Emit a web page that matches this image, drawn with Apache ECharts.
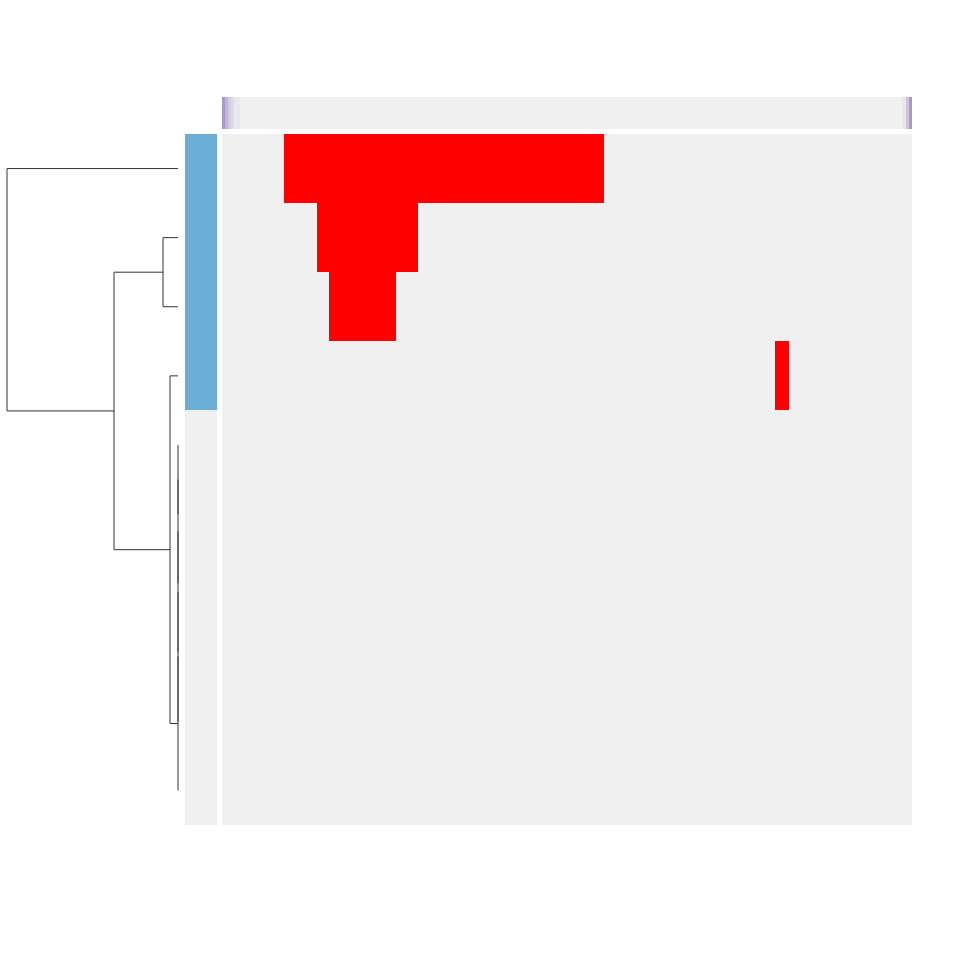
<!DOCTYPE html>
<html>
<head>
<meta charset="utf-8">
<script src="https://cdn.jsdelivr.net/npm/echarts@6/dist/echarts.min.js"></script>
<style>html,body{margin:0;padding:0;background:#fff}#c{width:960px;height:960px}</style>
</head>
<body>
<div id="c"></div>
<script>
// ---- data ----
const nRows = 10;
const nCols = 690;                       // column units across the heatmap
const rowGroup = [1, 1, 1, 1, 0, 0, 0, 0, 0, 0];      // row annotation group
const groupColors = ['#f0f0f0', '#6baed6'];
// red (value = 1) runs: [row, startCol, endCol]
const redRuns = [[0, 62, 382], [1, 95, 196], [2, 107, 174], [3, 553, 567]];
// column annotation runs: [startCol, endCol, value 0..1]
const colAnnot = [[0, 3, 0.6], [3, 6, 0.4], [6, 9, 0.25], [9, 12, 0.14], [12, 18, 0.05],
                  [680, 684, 0.06], [684, 687, 0.3], [687, 690, 0.6]];
// hclust-style merges: negative = leaf (1-based, display order), positive = earlier merge
const merges = [[-5, -6, 0], [1, -7, 0], [2, -8, 0], [3, -9, 0], [4, -10, 0],
                [-2, -3, 1.5], [-4, 5, 0.8], [6, 7, 6.4], [-1, 8, 17.1]];
const maxHeight = 17.1;

// ---- derived ----
const nodePos = [];
function pos(id) {
  if (id < 0) return { y: -id - 0.5, h: 0 };
  return nodePos[id - 1];
}
const dendroSegs = [];
merges.forEach(function (m) {
  const a = pos(m[0]), b = pos(m[1]), h = m[2];
  dendroSegs.push([a.h, a.y, h, a.y]);
  dendroSegs.push([b.h, b.y, h, b.y]);
  dendroSegs.push([h, a.y, h, b.y]);
  nodePos.push({ y: (a.y + b.y) / 2, h: h });
});
// merge consecutive rows of the same group into runs: [startRow, endRow, group]
const annotRuns = [];
rowGroup.forEach(function (g, i) {
  const last = annotRuns[annotRuns.length - 1];
  if (last && last[2] === g) last[1] = i + 1;
  else annotRuns.push([i, i + 1, g]);
});
const lowC = '#f0f0f0', highC = '#7a5cb0';

function snapRect(p0, p1) {
  const x0 = Math.round(Math.min(p0[0], p1[0])), x1 = Math.round(Math.max(p0[0], p1[0]));
  const y0 = Math.round(Math.min(p0[1], p1[1])), y1 = Math.round(Math.max(p0[1], p1[1]));
  return { x: x0, y: y0, width: x1 - x0, height: y1 - y0 };
}

const gridTop = 134, gridHeight = 691;
const chart = echarts.init(document.getElementById('c'), null, { renderer: 'canvas' });
function hiddenAxis(idx, type, min, max, inverse) {
  return { gridIndex: idx, type: type, min: min, max: max, inverse: !!inverse, show: false };
}
chart.setOption({
  animation: false,
  backgroundColor: '#ffffff',
  grid: [
    { left: 222, top: gridTop, width: 690, height: gridHeight, show: true, backgroundColor: '#f0f0f0', borderWidth: 0 },
    { left: 185, top: gridTop, width: 32, height: gridHeight, show: false },
    { left: 222, top: 97, width: 690, height: 32, show: true, backgroundColor: '#f0f0f0', borderWidth: 0 },
    { left: 7, top: gridTop, width: 171, height: gridHeight, show: false }
  ],
  xAxis: [
    hiddenAxis(0, 'value', 0, nCols),
    hiddenAxis(1, 'value', 0, 1),
    hiddenAxis(2, 'value', 0, nCols),
    hiddenAxis(3, 'value', 0, maxHeight, true)
  ],
  yAxis: [
    hiddenAxis(0, 'value', 0, nRows, true),
    hiddenAxis(1, 'value', 0, nRows, true),
    hiddenAxis(2, 'value', 0, 1),
    hiddenAxis(3, 'value', 0, nRows, true)
  ],
  series: [
    {
      type: 'custom', xAxisIndex: 0, yAxisIndex: 0, data: redRuns,
      renderItem: function (params, api) {
        const p0 = api.coord([api.value(1), api.value(0)]);
        const p1 = api.coord([api.value(2), api.value(0) + 1]);
        return { type: 'rect', shape: snapRect(p0, p1), style: { fill: '#ff0000' } };
      }
    },
    {
      type: 'custom', xAxisIndex: 1, yAxisIndex: 1, data: annotRuns,
      renderItem: function (params, api) {
        const p0 = api.coord([0, api.value(0)]);
        const p1 = api.coord([1, api.value(1)]);
        return { type: 'rect', shape: snapRect(p0, p1), style: { fill: groupColors[api.value(2)] } };
      }
    },
    {
      type: 'custom', xAxisIndex: 2, yAxisIndex: 2, data: colAnnot,
      renderItem: function (params, api) {
        const p0 = api.coord([api.value(0), 1]);
        const p1 = api.coord([api.value(1), 0]);
        return { type: 'rect', shape: snapRect(p0, p1),
                 style: { fill: echarts.color.lerp(api.value(2), [lowC, highC]) } };
      }
    },
    {
      type: 'custom', xAxisIndex: 3, yAxisIndex: 3, data: dendroSegs,
      renderItem: function (params, api) {
        const p0 = api.coord([api.value(0), api.value(1)]);
        const p1 = api.coord([api.value(2), api.value(3)]);
        return { type: 'line', shape: { x1: p0[0], y1: p0[1], x2: p1[0], y2: p1[1] },
                 style: { stroke: '#333333', lineWidth: 1 } };
      }
    }
  ]
});
</script>
</body>
</html>
